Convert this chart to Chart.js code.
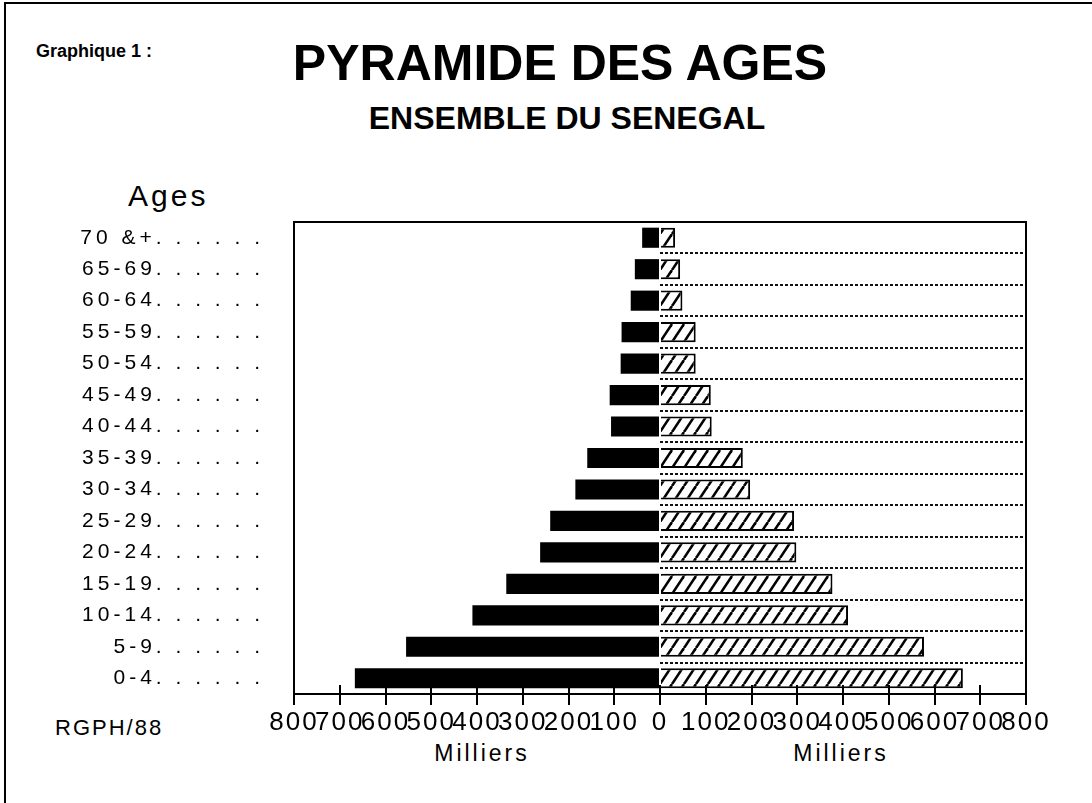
<!DOCTYPE html>
<html>
<head>
<meta charset="utf-8">
<script src="https://cdn.jsdelivr.net/npm/chart.js@4"></script>
<style>
  html, body { margin: 0; padding: 0; background: #fff; }
  body { width: 1092px; height: 803px; position: relative; overflow: hidden; font-family: "Liberation Sans", Arial, sans-serif; color: #000; }
  .frame-top { position: absolute; left: 4px; top: 2px; width: 1088px; height: 2px; background: #000; }
  .frame-left { position: absolute; left: 4px; top: 2px; width: 2px; height: 801px; background: #000; }
  .txt { position: absolute; white-space: nowrap; line-height: 1; }
  #pyramid { position: absolute; left: 0; top: 0; }
</style>
</head>
<body>
<div class="frame-top"></div>
<div class="frame-left"></div>
<div class="txt" style="left:36px;top:42px;font-size:18px;font-weight:bold;">Graphique 1 :</div>
<div class="txt" style="left:560px;top:38px;font-size:50px;font-weight:bold;transform:translateX(-50%);">PYRAMIDE DES AGES</div>
<div class="txt" style="left:567px;top:102px;font-size:32px;font-weight:bold;transform:translateX(-50%);">ENSEMBLE DU SENEGAL</div>
<div class="txt" style="left:128px;top:181px;font-size:30px;letter-spacing:3px;">Ages</div>
<div class="txt" style="left:55px;top:717px;font-size:22px;letter-spacing:2px;">RGPH/88</div>
<div class="txt" style="left:482px;top:742px;font-size:23px;letter-spacing:3px;transform:translateX(-50%);">Milliers</div>
<div class="txt" style="left:841px;top:742px;font-size:23px;letter-spacing:3px;transform:translateX(-50%);">Milliers</div>
<canvas id="pyramid" width="1092" height="803"></canvas>

<script>
// age groups, top to bottom
const ageGroups = ["70 &+", "65-69", "60-64", "55-59", "50-54", "45-49", "40-44",
  "35-39", "30-34", "25-29", "20-24", "15-19", "10-14", "5-9", "0-4"];
// left side (black bars), milliers
const leftValues = [39, 55, 64, 84, 86, 110, 107, 159, 185, 240, 262, 336, 410, 555, 667];
// right side (hatched bars), milliers
const rightValues = [33, 44, 49, 78, 78, 111, 113, 181, 197, 293, 298, 377, 411, 577, 662];
const axisMax = 800;
const axisStep = 100;

// extra letter spacing for the tick labels, per scale
const labelSpacing = { x: "2px", y: "4px" };

function makeHatch() {
  const w = 12, h = 18;
  const c = document.createElement("canvas");
  c.width = w; c.height = h;
  const g = c.getContext("2d");
  g.fillStyle = "#fff";
  g.fillRect(0, 0, w, h);
  g.strokeStyle = "#000";
  g.lineWidth = 2.6;
  [-w, 0, w].forEach(dx => {
    g.beginPath();
    g.moveTo(dx, h);
    g.lineTo(dx + w, 0);
    g.stroke();
  });
  return g.createPattern(c, "repeat");
}

const spacingPlugin = {
  id: "spacing",
  beforeDraw(chart) {
    Object.entries(labelSpacing).forEach(([id, sp]) => {
      const scale = chart.scales[id];
      if (!scale || scale._spaced) return;
      const draw = scale.drawLabels.bind(scale);
      scale.drawLabels = (area) => {
        const c = scale.ctx;
        c.save();
        c.letterSpacing = sp;
        draw(area);
        c.restore();
      };
      scale._spaced = true;
    });
  }
};

const framePlugin = {
  id: "frame",
  beforeDatasetsDraw(chart) {
    const { ctx, chartArea: a, scales: { x, y } } = chart;
    const zero = x.getPixelForValue(0);
    ctx.save();
    ctx.strokeStyle = "#111";
    ctx.lineWidth = 2;
    ctx.setLineDash([3, 2]);
    for (let i = 1; i < ageGroups.length; i++) {
      const py = Math.round((y.getPixelForValue(i - 1) + y.getPixelForValue(i)) / 2);
      ctx.beginPath();
      ctx.moveTo(zero, py);
      ctx.lineTo(a.right, py);
      ctx.stroke();
    }
    ctx.restore();
  },
  afterDraw(chart) {
    const { ctx, chartArea: a, scales: { x } } = chart;
    ctx.save();
    ctx.strokeStyle = "#000";
    ctx.lineWidth = 2;
    ctx.beginPath();
    ctx.moveTo(a.left, a.top);
    ctx.lineTo(a.right, a.top);
    ctx.lineTo(a.right, a.bottom);
    ctx.stroke();
    x.ticks.forEach(t => {
      const px = Math.round(x.getPixelForValue(t.value));
      ctx.beginPath();
      ctx.moveTo(px, a.bottom - 9);
      ctx.lineTo(px, a.bottom);
      ctx.stroke();
    });
    ctx.restore();
  }
};

const ctx = document.getElementById("pyramid").getContext("2d");
new Chart(ctx, {
  type: "bar",
  data: {
    labels: ageGroups,
    datasets: [
      {
        label: "gauche",
        data: leftValues.map(v => -v),
        backgroundColor: "#000",
        borderColor: "#000",
        borderWidth: 0,
      },
      {
        label: "droite",
        data: rightValues,
        backgroundColor: makeHatch(),
        borderColor: "#000",
        borderWidth: 2,
      },
    ],
  },
  options: {
    indexAxis: "y",
    responsive: false,
    animation: false,
    events: [],
    barPercentage: 0.64,
    categoryPercentage: 1,
    layout: { padding: { left: 0, top: 222, right: 66, bottom: 0 } },
    plugins: {
      legend: { display: false },
      tooltip: { enabled: false },
    },
    scales: {
      x: {
        stacked: true,
        min: -axisMax,
        max: axisMax,
        afterFit: (s) => { s.height = 109; },
        ticks: {
          stepSize: axisStep,
          autoSkip: false,
          maxRotation: 0,
          minRotation: 0,
          padding: 2,
          color: "#000",
          font: { family: "'Liberation Sans Narrow', 'Liberation Sans', sans-serif", size: 26 },
          callback: (v) => Math.abs(v),
        },
        grid: {
          drawOnChartArea: false,
          drawTicks: true,
          tickLength: 11,
          color: "#000",
          lineWidth: 2,
        },
        border: { display: true, color: "#000", width: 2 },
      },
      y: {
        stacked: true,
        afterFit: (s) => { s.width = 294; },
        ticks: {
          padding: 22,
          color: "#000",
          font: { family: "'Liberation Sans', Arial, sans-serif", size: 21 },
          callback: function (v) {
            return this.getLabelForValue(v) + "." + " .".repeat(5);
          },
        },
        grid: { display: false },
        border: { display: true, color: "#000", width: 2 },
      },
    },
  },
  plugins: [spacingPlugin, framePlugin],
});
</script>
</body>
</html>
